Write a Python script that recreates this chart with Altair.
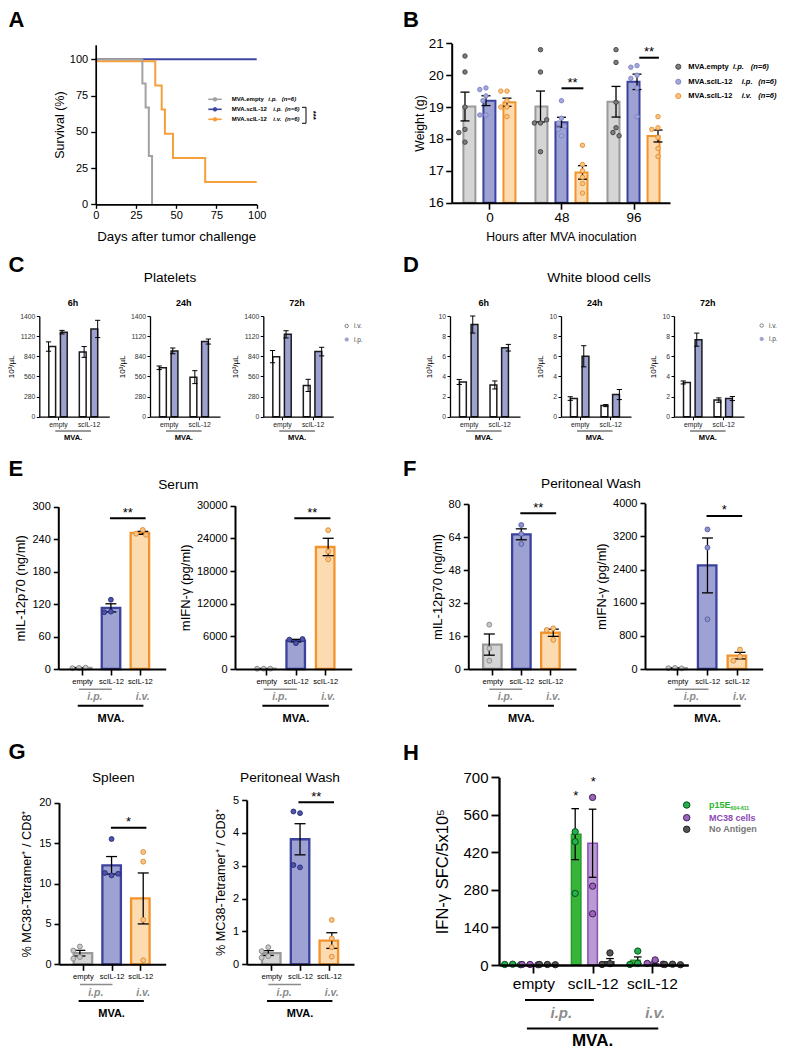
import numpy as np
import pandas as pd
import altair as alt

FONT = "Liberation Sans"
W, H = 776, 1040
M = 8

# ---------------- A: survival ----------------
A_days_empty = [0, 29, 31, 33, 35]
A_surv_empty = [100, 83.3, 66.7, 33.3, 0]
A_days_ip = [0, 100]
A_surv_ip = [100, 100]
A_days_iv = [0, 37, 41, 43, 48, 68, 100]
A_surv_iv = [100, 83.3, 66.7, 50, 33.3, 16.7, 16.7]
A_ticks = [0, 25, 50, 75, 100]
A_groups = ["MVA.empty", "MVA.scIL-12", "MVA.scIL-12"]
A_routes = ["i.p.", "i.p.", "i.v."]

# ---------------- B: weight ----------------
B_hours = ["0", "48", "96"]
B_w_empty = [[20.6, 20.1, 19.0, 18.3, 18.2, 17.9],
             [20.8, 20.1, 18.5, 18.5, 18.6, 17.6],
             [20.8, 20.4, 19.15, 18.35, 18.2, 18.1]]
B_w_ip = [[19.6, 19.55, 19.35, 19.2, 18.75, 18.75],
          [19.2, 18.65, 18.5, 18.4, 18.3, 18.1],
          [20.3, 20.25, 20.0, 19.9, 19.6, 18.7]]
B_w_iv = [[19.5, 19.5, 19.2, 19.0, 19.0, 18.7],
          [17.8, 17.2, 17.0, 16.8, 16.6, 16.3],
          [18.7, 18.35, 18.3, 18.05, 17.7, 17.45]]
B_ticks = [16, 17, 18, 19, 20, 21]

# ---------------- C / D: blood counts ----------------
CD_times = ["6h", "24h", "72h"]
CD_virus = ["empty", "scIL-12"]
C_iv_mean = [[975, 900], [680, 550], [835, 435]]
C_iv_sem = [[65, 75], [25, 90], [85, 85]]
C_ip_mean = [[1175, 1220], [915, 1045], [1145, 905]]
C_ip_sem = [[25, 120], [40, 35], [50, 60]]
C_ticks = [0, 280, 560, 840, 1120, 1400]
D_iv_mean = [[3.45, 3.15], [1.8, 1.1], [3.4, 1.65]]
D_iv_sem = [[0.25, 0.4], [0.18, 0.1], [0.15, 0.22]]
D_ip_mean = [[9.15, 6.85], [6.0, 2.2], [7.65, 1.8]]
D_ip_sem = [[0.85, 0.33], [1.05, 0.5], [0.65, 0.2]]
D_ticks = [0, 2, 4, 6, 8, 10]

# ---------------- E / F / G ----------------
EG_cats = ["empty", "scIL-12", "scIL-12"]
E_il12 = [[2, 1.5, 2.5], [128, 106, 105], [257, 250, 248]]
E_ifn = [[60, 50, 70], [4750, 5400, 5500], [25500, 21600, 20150]]
F_il12 = [[21.5, 10, 4], [69.8, 65.5, 60.6], [19.7, 18.9, 14.1]]
F_ifn = [[25, 20, 15], [3370, 2930, 1200], [470, 300, 200]]
G_spleen = [[2.2, 1.7, 0.9, 0.7], [15.5, 11.0, 11.3, 11.2], [13.9, 12.7, 5.5, 0.5]]
G_pw = [[0.52, 0.4, 0.25, 0.2], [4.6, 4.65, 2.95, 3.02], [1.35, 0.79, 0.52, 0.23]]
E_il12_ticks = [0, 60, 120, 180, 240, 300]
E_ifn_ticks = [0, 6000, 12000, 18000, 24000, 30000]
F_il12_ticks = [0, 16, 32, 48, 64, 80]
F_ifn_ticks = [0, 800, 1600, 2400, 3200, 4000]
G_sp_ticks = [0, 5, 10, 15, 20]
G_pw_ticks = [0, 1, 2, 3, 4, 5]

# ---------------- H: ELISpot ----------------
H_cats = ["empty", "scIL-12", "scIL-12"]
H_antigens = ["p15E", "MC38 cells", "No Antigen"]
H_mean = [[2, 488, 18], [2, 454, 9], [2, 12, 2]]
H_sem = [[0, 95, 12], [0, 127, 5], [0, 12, 1]]
H_pts = [[[3, 2, 1], [497, 460, 267], [52, 6, 2]],
         [[2, 2, 1], [625, 294, 191], [19, 6, 3]],
         [[2, 2, 1], [45, 5, 2], [3, 2, 1]]]
H_ticks = [0, 140, 280, 420, 560, 700]

# ---------------- colours ----------------
A_COL = ["#a2a2a2", "#3f46a2", "#f5a03a"]
BAR_FILL = ["#d5d5d5", "#9ea2d3", "#fddbb0"]
BAR_EDGE = ["#9a9a9a", "#3b429e", "#f3932a"]
B_PT = [("#7d7d7d", "#3f3f3f"), ("#a3a7da", "#7c82c2"), ("#fbc685", "#e38c2c")]
EG_PT = [("#c8c8c8", "#858585"), ("#4c53a8", "#262b78"), ("#f9c48a", "#d98a2e")]
F_PT = [("#c8c8c8", "#858585"), ("#8d92ca", "#555ba5"), ("#f9c48a", "#d98a2e")]
CD_BLUE = "#9da1cf"
H_FILL = ["#37b53a", "#b99ad2", "#555555"]
H_EDGE = ["#279a2b", "#8a4fb2", "#333333"]
H_PT = [("#22b14c", "#0d4d1c"), ("#9a64b8", "#3f1d57"), ("#555555", "#222222")]
H_TXT = ["#2db52d", "#8c48b3", "#777777"]
IP_GRAY = "#8c8c8c"

layers = []
TEXTS, PRULES, PPTS = [], [], []


def T(x, y, t, size, weight="normal", style="normal", color="black",
      align="center", baseline="middle", angle=0):
    TEXTS.append(dict(x=x - M, y=y - M, t=t, size=size, weight=weight, style=style,
                      color=color, align=align, baseline=baseline, angle=angle))


def STAR(x, ycenter, t, size=13):
    T(x, ycenter + 0.57 * size, t, size, baseline="alphabetic")


def R(x1, y1, x2, y2, color="black", w=1.0):
    PRULES.append(dict(x=x1 - M, y=y1 - M, x2=x2 - M, y2=y2 - M, color=color, w=w))


def P(x, y, fill, stroke, size, sw=0.8):
    PPTS.append(dict(x=x - M, y=y - M, fill=fill, stroke=stroke, size=size, sw=sw))


class Panel:
    def __init__(self, xdom, xr, ydom, yr):
        self.xdom, self.xr, self.ydom, self.yr = xdom, xr, ydom, yr
        self.xs = alt.Scale(domain=list(xdom), range=[xr[0] - M, xr[1] - M], nice=False, zero=False)
        self.ys = alt.Scale(domain=list(ydom), range=[yr[0] - M, yr[1] - M], nice=False, zero=False)
        self.ux = (xr[1] - xr[0]) / (xdom[1] - xdom[0])
        self.uy = (yr[0] - yr[1]) / (ydom[1] - ydom[0])

    def px(self, v):
        return self.xr[0] + (v - self.xdom[0]) * self.ux


def yaxis(p, values, title, lsize, tsize, tpad, dw=2.0, tlen=5, lpad=3, lcolor="black"):
    return alt.Axis(orient="left", offset=-(p.xr[0] - M), values=values, format="d", title=title,
                    grid=False, domainColor="black", domainWidth=dw, tickColor="black",
                    tickWidth=dw * 0.8, tickSize=tlen, labelFont=FONT, labelFontSize=lsize,
                    labelColor=lcolor, labelPadding=lpad, labelFlush=False, labelOverlap=False,
                    titleFont=FONT, titleFontSize=tsize, titleFontWeight="normal",
                    titleColor="black", titlePadding=tpad, zindex=2)


def xaxis(p, values, labels=None, lsize=11, dw=2.0, tlen=5, lpad=2, title=None,
          tsize=12, tpad=6, lcolor="black"):
    kw = dict(orient="bottom", offset=(p.yr[0] - M) - H, values=values, title=title, grid=False,
              domainColor="black", domainWidth=dw, tickColor="black", tickWidth=dw * 0.8,
              tickSize=tlen, labelFont=FONT, labelFontSize=lsize, labelColor=lcolor,
              labelPadding=lpad, labelFlush=False, labelOverlap=False, titleFont=FONT,
              titleFontSize=tsize, titleFontWeight="normal", titleColor="black",
              titlePadding=tpad, zindex=2)
    if labels is not None:
        kw["labelExpr"] = "[" + ",".join("'%s'" % s for s in labels) + "][round(datum.value)]"
    else:
        kw["format"] = "d"
    return alt.Axis(**kw)


def swarm(vals, uy, d):
    placed, offs = [], []
    cands = [0, -0.55, 0.55, -1.1, 1.1, -1.65, 1.65, -2.2, 2.2]
    for v in vals:
        yp = v * uy
        cx = 0
        for c in cands:
            cx = c * d
            if all((yp - a) ** 2 + (cx - b) ** 2 >= (0.9 * d) ** 2 for a, b in placed):
                break
        placed.append((yp, cx))
        offs.append(cx)
    return offs


def dotbar(p, bars, pts, xax, yax, bsize, bsw, ew, cap, psize=20, psw=0.8, pdiam=5.5):
    bdf = pd.DataFrame(bars, columns=["pos", "mean", "sem", "fill", "stroke"])
    bdf["lo"] = bdf["mean"] - bdf["sem"]
    bdf["hi"] = bdf["mean"] + bdf["sem"]
    bdf["base"] = p.ydom[0]
    out = [alt.Chart(bdf).mark_bar(size=bsize, strokeWidth=bsw).encode(
        x=alt.X("pos:Q", scale=p.xs, axis=xax),
        y=alt.Y("mean:Q", scale=p.ys, axis=yax),
        y2=alt.Y2("base:Q"),
        fill=alt.Fill("fill:N", scale=None),
        stroke=alt.Stroke("stroke:N", scale=None))]
    out.append(alt.Chart(bdf).mark_rule(color="black", strokeWidth=ew).encode(
        x=alt.X("pos:Q", scale=p.xs, axis=None),
        y=alt.Y("lo:Q", scale=p.ys, axis=None), y2=alt.Y2("hi:Q")))
    cdf = pd.concat([bdf.assign(cy=bdf["lo"]), bdf.assign(cy=bdf["hi"])], ignore_index=True)
    out.append(alt.Chart(cdf).mark_rule(color="black", strokeWidth=ew, xOffset=-cap, x2Offset=cap).encode(
        x=alt.X("pos:Q", scale=p.xs, axis=None), x2=alt.X2("pos:Q"),
        y=alt.Y("cy:Q", scale=p.ys, axis=None)))
    if pts:
        rows = []
        for pos, vals, fill, stroke in pts:
            offs = swarm(vals, p.uy, pdiam)
            for v, o in zip(vals, offs):
                rows.append(dict(x=pos + o / p.ux, v=v, fill=fill, stroke=stroke))
        pdf = pd.DataFrame(rows)
        out.append(alt.Chart(pdf).mark_point(shape="circle", filled=True, opacity=1, size=psize,
                                             strokeWidth=psw).encode(
            x=alt.X("x:Q", scale=p.xs, axis=None),
            y=alt.Y("v:Q", scale=p.ys, axis=None),
            fill=alt.Fill("fill:N", scale=None),
            stroke=alt.Stroke("stroke:N", scale=None)))
    return out


def xlines(p, rows):
    df = pd.DataFrame(rows, columns=["x1", "x2", "ypx", "color", "w"])
    df["ypx"] = df["ypx"] - M
    return alt.Chart(df).mark_rule().encode(
        x=alt.X("x1:Q", scale=p.xs, axis=None), x2=alt.X2("x2:Q"),
        y=alt.Y("ypx:Q", scale=None),
        color=alt.Color("color:N", scale=None),
        strokeWidth=alt.StrokeWidth("w:Q", scale=None))


def stats(vals):
    a = np.array(vals, dtype=float)
    return a.mean(), a.std(ddof=1) / np.sqrt(len(a))


# ======================= A =======================
pA = Panel([0, 100], [95.7, 256.7], [0, 110], [204.3, 44.8])
axA_y = yaxis(pA, A_ticks, "Survival (%)", 11, 12.5, 3, dw=1.7, tlen=5, lpad=3)
axA_x = xaxis(pA, A_ticks, None, lsize=11, dw=1.7, tlen=4, lpad=1,
              title="Days after tumor challenge", tsize=13.3, tpad=9)


def step_layer(p, days, surv, color, xax, yax, yoff=0):
    df = pd.DataFrame({"day": days, "surv": surv})
    return alt.Chart(df).mark_line(interpolate="step-after", color=color, strokeWidth=2,
                                   yOffset=yoff).encode(
        x=alt.X("day:Q", scale=p.xs, axis=xax), y=alt.Y("surv:Q", scale=p.ys, axis=yax))


layers.append(step_layer(pA, A_days_ip, A_surv_ip, A_COL[1], axA_x, axA_y))
layers.append(step_layer(pA, A_days_iv, A_surv_iv, A_COL[2], None, None, yoff=2))
layers.append(step_layer(pA, A_days_empty, A_surv_empty, A_COL[0], None, None))
for i, (g, r) in enumerate(zip(A_groups, A_routes)):
    y = 99.3 + 10 * i
    R(208.3, y, 221.7, y, A_COL[i], 1.6)
    P(215, y, A_COL[i], A_COL[i], 14)
    T(231.7, y, g, 6, "bold", align="left")
    T(268.3 if i == 0 else 273.3, y, r, 6, "bold", "italic", align="left")
    T(281.7 if i == 0 else 285, y, "(n=6)", 6, "bold", "italic", align="left")
R(302, 107.3, 306, 107.3)
R(306, 107.3, 306, 123.3)
R(302, 123.3, 306, 123.3)
T(313.3, 115.3, "***", 8, "bold", angle=90)

# ======================= B =======================
pB = Panel([-0.454, 2.437], [451.7, 670], [16, 21], [202.7, 43.3])
barsB, ptsB = [], []
for g in range(3):
    for k, data in enumerate([B_w_empty, B_w_ip, B_w_iv]):
        m, s = stats(data[g])
        pos = g + (k - 1) * 0.278
        barsB.append((pos, m, s, BAR_FILL[k], BAR_EDGE[k]))
        ptsB.append((pos, data[g], B_PT[k][0], B_PT[k][1]))
layers += dotbar(pB, barsB, ptsB,
                 xaxis(pB, [0, 1, 2], B_hours, lsize=13.5, dw=2, tlen=6.5, lpad=1.5,
                       title="Hours after MVA inoculation", tsize=12.2, tpad=6),
                 yaxis(pB, B_ticks, "Weight (g)", 13.5, 12.3, 2, dw=2, tlen=6, lpad=2.5),
                 bsize=12, bsw=2, ew=1.3, cap=4.5, psize=20, psw=0.9, pdiam=5.6)
layers.append(xlines(pB, [(1.0, 1.29, 88.3, "black", 2), (2.03, 2.29, 57.7, "black", 2)]))
STAR(pB.px(1.145), 80, "**")
STAR(pB.px(2.16), 48.8, "**")
for i, (g, r) in enumerate(zip(A_groups, A_routes)):
    y = [66.7, 81.7, 96][i]
    P(678.3, y, B_PT[i][0], B_PT[i][1], 26, 0.9)
    T(688.3, y, g, 7.5, "bold", align="left")
    T(733 if i == 0 else 741.7, y, r, 7.5, "bold", "italic", align="left")
    T(750.7 if i == 0 else 758.3, y, "(n=6)", 7.5, "bold", "italic", align="left")

# ======================= C / D =======================
def cd_panels(x0s, ivm, ivs, ipm, ips, ticks, ymax):
    for k, x0 in enumerate(x0s):
        p = Panel([-16 / 35.6, 54 / 35.6], [x0, x0 + 70], [0, ymax], [416.7, 316])
        bars = []
        for g in range(2):
            bars.append((g - 0.19, ivm[k][g], ivs[k][g], "white", "#1a1a1a"))
            bars.append((g + 0.19, ipm[k][g], ips[k][g], CD_BLUE, "#1a1a1a"))
        layers.extend(dotbar(p, bars, None,
                             xaxis(p, [0, 1], CD_virus, lsize=6.8, dw=1.3, tlen=3, lpad=1.5, lcolor="#222"),
                             yaxis(p, ticks, "10³/µL", 6.8, 8, 4, dw=1.3, tlen=3, lpad=1.5, lcolor="#333"),
                             bsize=6.8, bsw=1.5, ew=1.0, cap=2.6))
        layers.append(xlines(p, [(0, 1, 431, "#333", 1)]))
        T(p.px(0.5), 437.5, "MVA.", 7.5, "bold")
        T(p.px(0.5), 303.3, CD_times[k], 9, "bold")


cd_panels([39.3, 150, 263.3], C_iv_mean, C_iv_sem, C_ip_mean, C_ip_sem, C_ticks, 1400)
cd_panels([450, 561, 674], D_iv_mean, D_iv_sem, D_ip_mean, D_ip_sem, D_ticks, 10)
T(170, 278.3, "Platelets", 13.7)
T(599, 278.3, "White blood cells", 13.7)
for lx, ly in [(346.7, 326), (761.7, 325.5)]:
    P(lx, ly, "white", "#666", 12, 0.8)
    T(lx + 7.3, ly, "i.v.", 6.5, color="#444", align="left")
    P(lx, ly + 13.5, CD_BLUE, CD_BLUE, 12, 0.8)
    T(lx + 7.3, ly + 13.5, "i.p.", 6.5, color="#444", align="left")

# ======================= E / F / G =======================
def efg(p, data, ticks, title, ptcols, sig, tpad=4, tsize=13):
    bars, pts = [], []
    for c in range(3):
        m, s = stats(data[c])
        bars.append((c, m, s, BAR_FILL[c], BAR_EDGE[c]))
        pts.append((c, data[c], ptcols[c][0], ptcols[c][1]))
    layers.extend(dotbar(p, bars, pts,
                         xaxis(p, [0, 1, 2], EG_cats, lsize=7.6, dw=2, tlen=6, lpad=2),
                         yaxis(p, ticks, title, 11, tsize, tpad, dw=2, tlen=5, lpad=3),
                         bsize=18.5, bsw=2.3, ew=1.3, cap=5.5, psize=24, psw=0.9, pdiam=6))
    yb = p.yr[0]
    x1, x2, ysig, stars = sig
    layers.append(xlines(p, [(0, 1.03, yb + 20.3, IP_GRAY, 1.5),
                             (-0.04, 2.02, yb + 36.7, "black", 2),
                             (x1, x2, ysig, "black", 2)]))
    T(p.px(0.5), yb + 28.3, "i.p.", 10.5, "bold", "italic", color=IP_GRAY)
    T(p.px(2), yb + 28.3, "i.v.", 10.5, "bold", "italic", color=IP_GRAY)
    T(p.px(1), yb + 50, "MVA.", 11, "bold")
    STAR(p.px((x1 + x2) / 2), ysig - 9.2, stars)


pE1 = Panel([-0.65, 2.72], [58.3, 165.7], [0, 300], [669, 506.7])
pE2 = Panel([-0.89, 2.73], [235, 351.7], [0, 30000], [669, 505.7])
pF1 = Panel([-0.656, 2.71], [468.3, 576], [0, 80], [669, 504])
pF2 = Panel([-0.923, 2.7], [645, 762.7], [0, 4000], [669, 503.3])
pG1 = Panel([-0.66, 2.71], [59, 165.7], [0, 20], [964.3, 802.7])
pG2 = Panel([-0.68, 2.7], [246.7, 354], [0, 5], [964.3, 800])

efg(pE1, E_il12, E_il12_ticks, "mIL-12p70 (ng/ml)", EG_PT, (0.97, 2.09, 518.3, "**"))
efg(pE2, E_ifn, E_ifn_ticks, "mIFN-γ (pg/ml)", EG_PT, (0.95, 2.07, 518.3, "**"))
efg(pF1, F_il12, F_il12_ticks, "mIL-12p70 (ng/ml)", F_PT, (0.97, 2.09, 513.3, "**"))
efg(pF2, F_ifn, F_ifn_ticks, "mIFN-γ (pg/ml)", F_PT, (0.97, 2.07, 516, "*"))
efg(pG1, G_spleen, G_sp_ticks, "% MC38-Tetramer⁺ / CD8⁺", EG_PT, (0.98, 2.1, 827.7, "*"), tpad=5, tsize=12.7)
efg(pG2, G_pw, G_pw_ticks, "% MC38-Tetramer⁺ / CD8⁺", EG_PT, (0.95, 2.07, 802.3, "**"), tpad=5, tsize=12.7)
T(178.3, 485, "Serum", 13.7)
T(591, 484, "Peritoneal Wash", 13.7)
T(113.3, 778.3, "Spleen", 13.7)
T(290, 778.3, "Peritoneal Wash", 13.7)

# ======================= H =======================
pH = Panel([-0.496, 2.53], [499, 688.3], [0, 700], [965, 777.3])
barsH, ptsH = [], []
for g in range(3):
    for k in range(3):
        pos = g + (k - 1) * 0.278
        barsH.append((pos, H_mean[k][g], H_sem[k][g], H_FILL[k], H_EDGE[k]))
        ptsH.append((pos, H_pts[k][g], H_PT[k][0], H_PT[k][1]))
layers += dotbar(pH, barsH, ptsH,
                 xaxis(pH, [0, 1, 2], H_cats, lsize=15.5, dw=2.3, tlen=8, lpad=3),
                 yaxis(pH, H_ticks, "IFN-γ SFC/5x10⁵", 15, 16.5, 12, dw=2.3, tlen=8, lpad=3),
                 bsize=9.5, bsw=1.5, ew=1.3, cap=3.8, psize=40, psw=1.0, pdiam=7.2)
layers.append(xlines(pH, [(-0.08, 1.02, 1000, "black", 2), (-0.05, 2.05, 1028.5, "black", 2)]))
T(pH.px(0.5), 1012.5, "i.p.", 15, "bold", "italic", color=IP_GRAY)
T(pH.px(2), 1012.5, "i.v.", 15, "bold", "italic", color=IP_GRAY)
T(pH.px(1), 1040.5, "MVA.", 17, "bold")
STAR(575.7, 792.3, "*")
STAR(593.3, 778.3, "*")
for k in range(3):
    y = [805, 817.7, 829.3][k]
    P(686.7, y, H_PT[k][0], H_PT[k][1], 42, 1.0)
    T(709, y, H_antigens[k], 9, "bold", color=H_TXT[k], align="left")
T(730.5, 807.5, "604-611", 5.2, "bold", color=H_TXT[0], align="left")

# ======================= panel letters =======================
for L, x, y in [("A", 8.5, 19.5), ("B", 403, 19.5), ("C", 8.5, 265), ("D", 403, 265),
                ("E", 8.5, 468.5), ("F", 403, 468.5), ("G", 8.5, 752), ("H", 403, 753.3)]:
    T(x, y, L, 22, "bold", align="left")

# ======================= pixel annotation layers =======================
rdf = pd.DataFrame(PRULES)
layers.append(alt.Chart(rdf).mark_rule().encode(
    x=alt.X("x:Q", scale=None), x2=alt.X2("x2:Q"),
    y=alt.Y("y:Q", scale=None), y2=alt.Y2("y2:Q"),
    color=alt.Color("color:N", scale=None),
    strokeWidth=alt.StrokeWidth("w:Q", scale=None)))
pdf_ = pd.DataFrame(PPTS)
layers.append(alt.Chart(pdf_).mark_point(shape="circle", filled=True, opacity=1).encode(
    x=alt.X("x:Q", scale=None), y=alt.Y("y:Q", scale=None),
    fill=alt.Fill("fill:N", scale=None), stroke=alt.Stroke("stroke:N", scale=None),
    size=alt.Size("size:Q", scale=None), strokeWidth=alt.StrokeWidth("sw:Q", scale=None)))
tdf = pd.DataFrame(TEXTS)
for (w, s, a, b), g in tdf.groupby(["weight", "style", "align", "baseline"]):
    layers.append(alt.Chart(g.reset_index(drop=True)).mark_text(
        font=FONT, fontWeight=w, fontStyle=s, align=a, baseline=b).encode(
        x=alt.X("x:Q", scale=None), y=alt.Y("y:Q", scale=None), text="t:N",
        size=alt.Size("size:Q", scale=None), color=alt.Color("color:N", scale=None),
        angle=alt.Angle("angle:Q", scale=None)))

chart = alt.layer(*layers).resolve_scale(
    x="independent", y="independent"
).resolve_axis(
    x="independent", y="independent"
).properties(
    width=W, height=H, autosize=alt.AutoSizeParams(type="none"), padding=0, background="white"
).configure_view(stroke=None)

chart.save("out.html", embed_options={"renderer": "svg", "actions": False})
